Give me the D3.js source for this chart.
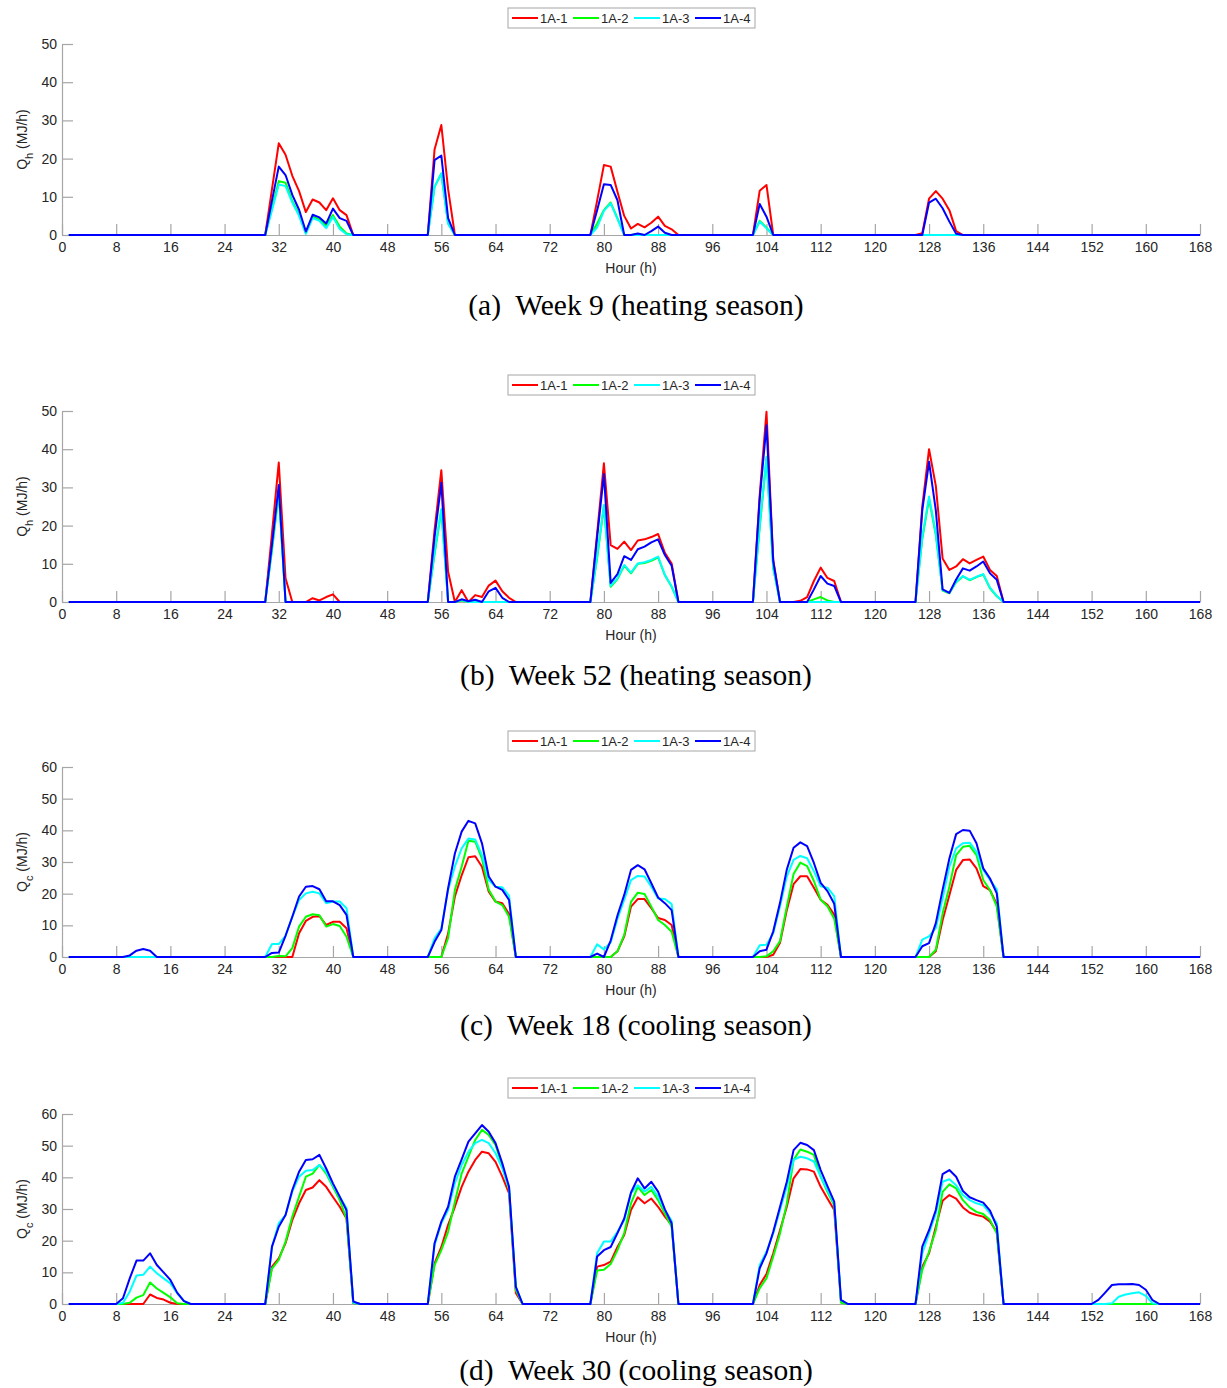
<!DOCTYPE html>
<html>
<head>
<meta charset="utf-8">
<title>weekly loads</title>
<script src="https://cdn.jsdelivr.net/npm/d3@7"></script>
<style>
  body { margin: 0; background: #fff; }
  text { font-family: Helvetica, "Liberation Sans", Arial, sans-serif; }
</style>
</head>
<body>
<script>
// series values by hour (1..168); every hour not inside a run is 0
// runs are written as {startHour: [values from that hour on]}
var seriesNames = ["1A-1", "1A-2", "1A-3", "1A-4"]
var seriesColors = ["#ff0000", "#00ff00", "#00ffff", "#0000ff"]
var xTicks = d3.range(0, 169, 8)

// (a) week 9
var w9_1A1 = {30: [0, 12, 24, 21, 15.5, 11.5, 6, 9.3, 8.5, 6.5, 9.6, 6.5, 5.2, 0],
              54: [0, 22.4, 28.8, 12, 0],
              78: [0, 9, 18.3, 17.9, 11.3, 5, 1.7, 2.9, 2, 3.2, 4.8, 2.4, 1.5, 0],
              102: [0, 11.6, 13.1, 0],
              126: [0, 0.5, 9.5, 11.5, 9.5, 6.5, 1, 0]}
var w9_1A2 = {30: [0, 7, 14.1, 13.7, 8.9, 5.4, 0.5, 4.8, 4.1, 2.4, 5.2, 2.2, 0.4, 0],
              54: [0, 12.6, 16.1, 3, 0],
              78: [0, 3, 6.5, 8.5, 4.4, 0, 0, 0.2, 0],
              102: [0, 3.7, 1.9, 0]}
var w9_1A3 = {30: [0, 6.5, 13.2, 12.8, 8.5, 5, 0.3, 4.4, 3.7, 1.8, 4.7, 1.6, 0.2, 0],
              54: [0, 12.6, 16.1, 3, 0],
              78: [0, 2, 6.3, 8.3, 4.2, 0],
              102: [0, 3.5, 1.8, 0]}
var w9_1A4 = {30: [0, 9, 17.9, 15.7, 10.5, 6.6, 0.9, 5.3, 4.6, 3, 6.9, 4.4, 3.7, 0],
              54: [0, 19.6, 20.8, 4.4, 0],
              78: [0, 6.5, 13.3, 13.1, 9.1, 0, 0, 0.4, 0, 1, 2.2, 0.6, 0],
              102: [0, 8.1, 4.8, 0],
              127: [0, 8.5, 9.5, 7, 3.5, 0.3, 0]}

// (b) week 52
var w52_1A1 = {30: [0, 18, 36.5, 6.2, 0],
               36: [0, 1, 0.4, 1.3, 2, 0],
               54: [0, 18.8, 34.5, 7.9, 0, 3.1, 0, 1.8, 1.3, 4.3, 5.6, 2.8, 1.1, 0],
               78: [0, 18, 36.3, 14.9, 13.9, 15.8, 13.6, 16.1, 16.4, 17, 17.8, 12.9, 10.1, 0],
               102: [0, 28, 49.8, 11, 0],
               108: [0, 0.3, 1.3, 5.5, 9, 6.3, 5.5, 0],
               126: [0, 25, 40, 30.4, 11.4, 8.4, 9.3, 11.2, 10.1, 11, 11.9, 8.4, 6.8, 0]}
var w52_1A2 = {30: [0, 13.5, 28.5, 0],
               54: [0, 12.5, 24, 0, 0, 0.4, 0],
               78: [0, 11.5, 25, 4, 6, 9.5, 7.5, 10, 10.2, 10.8, 11.7, 7, 4, 0],
               102: [0, 19.5, 37.5, 8.8, 0],
               109: [0, 0, 0.7, 1.3, 0.4, 0],
               126: [0, 16.5, 27, 17.5, 3, 2.3, 5.2, 6.7, 5.7, 6.5, 7.2, 3.6, 1.5, 0]}
var w52_1A3 = {30: [0, 14, 29, 0],
               54: [0, 13, 24.3, 0, 0, 0.5, 0],
               78: [0, 12, 25.4, 4.2, 6.2, 9.7, 7.7, 10.1, 10.4, 11, 11.9, 7.1, 4.1, 0],
               102: [0, 20, 38, 9, 0],
               126: [0, 17, 27.6, 18, 3.1, 2.4, 5.3, 6.8, 5.8, 6.6, 7.3, 3.7, 1.6, 0]}
var w52_1A4 = {30: [0, 15, 30.6, 0],
               54: [0, 17, 31.2, 0, 0, 0.7, 0.2, 0.6, 0, 2.8, 3.7, 1.1, 0],
               78: [0, 17, 33.5, 5, 7.3, 12, 11, 13.8, 14.5, 15.6, 16.4, 12.3, 9.5, 0],
               102: [0, 27, 46.3, 10.6, 0],
               109: [0, 0, 3.3, 6.8, 4.8, 4.2, 0],
               126: [0, 24, 36.7, 24, 3.3, 2.4, 5.9, 8.8, 8.2, 9.3, 10.6, 7.5, 5.8, 0]}

// (c) week 18
var w18_1A1 = {33: [0, 0, 7.5, 11.4, 12.7, 12.9, 10.1, 11.1, 11.1, 9.1, 0],
               56: [0, 7.4, 19.1, 25.8, 31.5, 31.8, 28.5, 20.6, 17.5, 17, 13.6, 0],
               81: [0, 1.8, 6.5, 15.9, 18.3, 18.3, 15.4, 12.3, 11.7, 10.1, 0],
               104: [0, 0.7, 4.5, 14.8, 23, 25.5, 25.5, 21.9, 18.1, 16.5, 13.4, 0],
               128: [0, 1.8, 11.6, 19.5, 27.5, 30.6, 30.8, 28, 22.4, 21.1, 16.7, 0]}
var w18_1A2 = {31: [0, 0.3, 0.2, 2.8, 9.6, 12.7, 13.5, 13.2, 9.6, 10.4, 9.8, 6.4, 0],
               56: [0, 6, 21.2, 28.5, 36.7, 36.4, 31.1, 21.2, 17.5, 16.4, 12.7, 0],
               81: [0, 1.8, 7, 17.4, 20.3, 19.9, 15.9, 11.7, 10.1, 8, 0],
               103: [0, 0.2, 1.8, 5, 15.9, 26.2, 29.8, 28.7, 24, 18.1, 16, 12.1, 0],
               128: [0, 2.3, 13.7, 22.2, 32.2, 34.8, 35.1, 32.2, 24.3, 21.1, 15.9, 0]}
var w18_1A3 = {30: [0, 4.1, 4.1, 6.7, 12.7, 18, 20.1, 20.6, 20.1, 17, 17.5, 17.5, 15.4, 0],
               54: [0, 5.9, 9, 21.2, 28.6, 34.3, 37.4, 37.1, 32.2, 24.3, 22.2, 22, 19.3, 0],
               78: [0, 4, 2.4, 4.6, 12, 18.1, 24.3, 25.6, 25.4, 22.2, 18.5, 18.3, 16.7, 0],
               102: [0, 3.7, 3.9, 7.5, 16, 25.4, 30.7, 31.9, 31.2, 27.1, 22.3, 21.9, 19.2, 0],
               126: [0, 5.5, 6.5, 9.1, 18.5, 28.5, 34.3, 35.9, 36.1, 33.3, 27.5, 24.3, 21.4, 0]}
var w18_1A4 = {9: [0, 0.5, 2, 2.5, 2, 0],
               30: [0, 1.3, 1.4, 6.7, 12.7, 19.1, 22.2, 22.4, 21.4, 17.6, 17.6, 16.4, 13.3, 0],
               54: [0, 4.8, 8.5, 21.7, 32.7, 39.6, 43, 42.2, 35.9, 25.4, 22.2, 21.2, 18, 0],
               78: [0, 1.1, 0, 5.2, 13.1, 19.6, 27.5, 29, 27.7, 23.3, 18.8, 17, 14.8, 0],
               102: [0, 1.8, 2.3, 8.1, 17.1, 27.6, 34.5, 36.2, 35, 29.7, 23.4, 20.8, 16.8, 0],
               126: [0, 3.4, 4.4, 10.7, 21.2, 31.1, 38.8, 40.1, 39.9, 35.9, 28, 24.8, 20.1, 0]}

// (d) week 30
var w30_1A1 = {12: [0, 3, 1.9, 1.4, 0.4, 0],
               30: [0, 11.8, 14.4, 19.2, 26.5, 31.8, 36, 36.8, 39.1, 37, 33.8, 30.7, 27, 0.3, 0],
               54: [0, 12.8, 18, 25, 30.7, 37, 41.8, 45.5, 48.1, 47.6, 44.9, 40.2, 34.9, 3.5, 0],
               78: [0, 11.8, 12.3, 13.4, 18, 21.8, 29.7, 33.7, 31.8, 33.3, 30.7, 27.6, 25, 0],
               102: [0, 6, 9.5, 16, 23.3, 30.7, 39.7, 42.6, 42.5, 41.8, 37, 33.3, 29.7, 0.7, 0],
               126: [0, 11.8, 16, 24.4, 32.6, 34.4, 33.3, 30.5, 28.8, 28.1, 27.6, 26, 22.8, 0]}
var w30_1A2 = {9: [0, 0.4, 2, 2.8, 6.8, 4.9, 3.5, 2.1, 0.2, 0],
               30: [0, 11.2, 13.9, 19.7, 27.6, 33.9, 40.2, 41.2, 43.9, 41.2, 37, 32.8, 27, 0.3, 0],
               54: [0, 12.3, 17, 22.8, 32.3, 41.2, 46.5, 51.8, 55, 53.4, 50.2, 43.4, 36, 4.4, 0],
               78: [0, 10.6, 10.8, 12.6, 17, 22.4, 31.8, 37, 34.4, 36, 32.8, 28.6, 24.4, 0],
               102: [0, 5, 8.1, 15, 22.3, 31.7, 45.5, 48.8, 48.1, 47.1, 40.2, 35.4, 31.2, 0.4, 0],
               126: [0, 10.8, 16.5, 23.3, 35.4, 37.8, 36.5, 32.8, 30.5, 29.1, 28.4, 26.5, 22.3, 0]}
var w30_1A3 = {8: [0, 0.4, 3.9, 9, 9.2, 11.8, 9.7, 8.1, 6.5, 3.4, 1, 0],
               30: [0, 18.1, 25.5, 28.1, 35.5, 40.2, 42.1, 42.3, 43.9, 41.8, 37.5, 33.9, 30.2, 0.4, 0],
               54: [0, 18.6, 25.5, 29.7, 38.1, 43.9, 48.1, 50.8, 51.8, 50.8, 47.6, 42.8, 36.5, 5.4, 0],
               78: [0, 16.1, 19.7, 19.7, 22.8, 26.5, 35, 37.5, 35.5, 37, 33.9, 29.7, 26.3, 0],
               102: [0, 12.3, 16.5, 22.3, 29.7, 37, 45.5, 46.5, 46, 45, 40.2, 35.9, 31.8, 1.3, 0],
               126: [0, 16, 22.3, 28.6, 38.6, 39.4, 37.5, 34.4, 32.8, 31.8, 31.2, 28.6, 25.5, 0],
               154: [0, 0.2, 2.3, 3, 3.4, 3.7, 2.6, 0.2, 0]}
var w30_1A4 = {8: [0, 1.8, 8.1, 13.7, 13.7, 16, 12.3, 10, 7.6, 3.6, 0.9, 0],
               30: [0, 18.1, 24.4, 28.1, 36, 41.8, 45.5, 45.7, 47.1, 42.8, 38.1, 33.9, 29.6, 0.8, 0],
               54: [0, 19.2, 26, 30.7, 40.2, 45.7, 51.3, 53.9, 56.5, 54.4, 50.8, 44.4, 37, 5.4, 0],
               78: [0, 15, 17, 18, 22.4, 27, 35.2, 39.7, 36.5, 38.6, 35.5, 29.9, 25.5, 0],
               102: [0, 11.3, 16, 22.8, 30.7, 38.6, 48.6, 50.9, 50.2, 48.6, 42.3, 37.2, 32.3, 1.3, 0],
               126: [0, 18.1, 23.3, 29.7, 41, 42.3, 40.2, 35.7, 33.7, 32.8, 32, 29.5, 24.4, 0],
               152: [0, 1.3, 3.6, 6, 6.2, 6.2, 6.3, 6, 4.5, 1.2, 0]}

var panels = [
    {series: [w9_1A1, w9_1A2, w9_1A3, w9_1A4], sub: "h", ymax: 50, yTicks: [0, 10, 20, 30, 40, 50],
     caption: "(a)  Week 9 (heating season)", top: 44, bottom: 235, capY: 315},
    {series: [w52_1A1, w52_1A2, w52_1A3, w52_1A4], sub: "h", ymax: 50, yTicks: [0, 10, 20, 30, 40, 50],
     caption: "(b)  Week 52 (heating season)", top: 411, bottom: 602, capY: 685},
    {series: [w18_1A1, w18_1A2, w18_1A3, w18_1A4], sub: "c", ymax: 60, yTicks: [0, 10, 20, 30, 40, 50, 60],
     caption: "(c)  Week 18 (cooling season)", top: 767, bottom: 957, capY: 1035},
    {series: [w30_1A1, w30_1A2, w30_1A3, w30_1A4], sub: "c", ymax: 60, yTicks: [0, 10, 20, 30, 40, 50, 60],
     caption: "(d)  Week 30 (cooling season)", top: 1114, bottom: 1304, capY: 1380}
]

// turn runs into 168 hourly points
function expand(runs) {
    var vals = d3.range(1, 169).map(function(h) { return {h: h, v: 0} })
    Object.keys(runs).forEach(function(k) {
        runs[k].forEach(function(v, i) {
            var h = +k + i
            if (h >= 1 && h <= 168) vals[h - 1].v = v
        })
    })
    return vals
}

var W = 1227, H = 1388
var left = 62, right = 1200
var svg = d3.select("body").append("svg").attr("width", W).attr("height", H)

var xScale = d3.scaleLinear().domain([0, 168]).range([left, right])

panels.forEach(function(p) {
    var g = svg.append("g")
    var yScale = d3.scaleLinear().domain([0, p.ymax]).range([p.bottom, p.top])

    // axes, ticks pointing inward like matlab
    var xAxis = g.append("g").attr("transform", "translate(0," + p.bottom + ")")
        .call(d3.axisBottom(xScale).tickValues(xTicks).tickSizeInner(-11).tickSizeOuter(0).tickPadding(7))
    var yAxis = g.append("g").attr("transform", "translate(" + left + ",0)")
        .call(d3.axisLeft(yScale).tickValues(p.yTicks).tickSizeInner(-11).tickSizeOuter(0).tickPadding(5))
    ;[xAxis, yAxis].forEach(function(a) {
        a.select(".domain").attr("stroke", "#a6a6a6").attr("stroke-width", 1.2)
        a.selectAll(".tick line").attr("stroke", "#a6a6a6").attr("stroke-width", 1.2)
        a.selectAll(".tick text").attr("fill", "#262626")
            .style("font-size", "14px").style("font-family", "Helvetica, 'Liberation Sans', Arial, sans-serif")
    })

    // lines
    var line = d3.line()
        .x(function(d) { return xScale(d.h) })
        .y(function(d) { return yScale(d.v) })
    p.series.forEach(function(s, i) {
        g.append("path")
            .datum(expand(s))
            .attr("d", line)
            .attr("fill", "none")
            .attr("stroke", seriesColors[i])
            .attr("stroke-width", 2)
            .attr("stroke-linejoin", "round")
    })

    // labels
    g.append("text")
        .attr("x", 631).attr("y", p.bottom + 38)
        .attr("text-anchor", "middle").attr("fill", "#262626").style("font-size", "14px")
        .text("Hour (h)")
    var yl = g.append("text")
        .attr("transform", "translate(27," + ((p.top + p.bottom) / 2) + ") rotate(-90)")
        .attr("text-anchor", "middle").attr("fill", "#262626").style("font-size", "14px")
    yl.append("tspan").text("Q")
    yl.append("tspan").attr("baseline-shift", "sub").style("font-size", "11px").text(p.sub)
    yl.append("tspan").text(" (MJ/h)")

    // legend
    var lg = g.append("g").attr("transform", "translate(508," + (p.top - 36) + ")")
    lg.append("rect").attr("width", 247).attr("height", 20)
        .attr("fill", "#fff").attr("stroke", "#a6a6a6").attr("stroke-width", 1)
    seriesNames.forEach(function(n, i) {
        lg.append("line")
            .attr("x1", 4 + i * 61).attr("x2", 30 + i * 61).attr("y1", 10).attr("y2", 10)
            .attr("stroke", seriesColors[i]).attr("stroke-width", 2)
        lg.append("text")
            .attr("x", 32 + i * 61).attr("y", 14.5)
            .attr("fill", "#262626").style("font-size", "13px")
            .text(n)
    })

    // caption
    g.append("text")
        .attr("x", 636).attr("y", p.capY)
        .attr("text-anchor", "middle").attr("fill", "#000")
        .style("font-family", "'Liberation Serif', 'Times New Roman', serif")
        .style("font-size", "29.5px").style("white-space", "pre")
        .text(p.caption)
})
</script>
</body>
</html>
